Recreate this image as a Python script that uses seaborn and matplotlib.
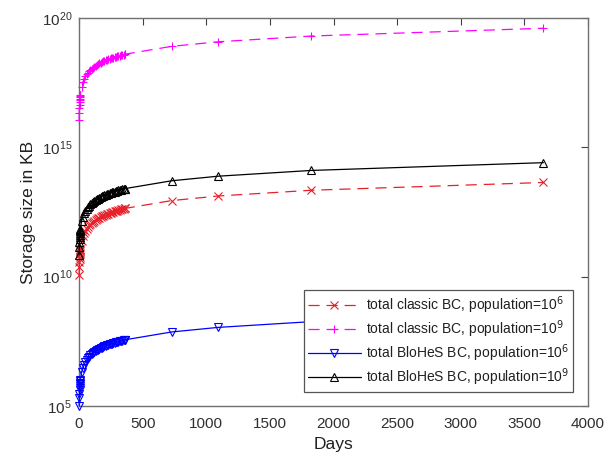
import numpy as np
import pandas as pd
import matplotlib
matplotlib.use("Agg")
import matplotlib.pyplot as plt
import seaborn as sns
from matplotlib.ticker import LogFormatterMathtext, FixedLocator, NullLocator

# ---- data ----
days = [1, 2, 3, 4, 5, 6, 7, 8, 9, 10, 20, 30, 40, 50, 60, 70, 80, 90, 100,
        110, 120, 130, 140, 150, 160, 170, 180, 190, 200, 210, 220, 230, 240,
        250, 260, 270, 280, 290, 300, 310, 320, 330, 340, 350, 360, 365,
        730, 1095, 1825, 3650]

classic_1e6 = [1.2e10, 2.4e10, 3.6e10, 4.8e10, 6.0e10, 7.2e10, 8.4e10, 9.6e10, 1.08e11, 1.2e11,
               2.4e11, 3.6e11, 4.8e11, 6.0e11, 7.2e11, 8.4e11, 9.6e11, 1.08e12, 1.2e12,
               1.32e12, 1.44e12, 1.56e12, 1.68e12, 1.8e12, 1.92e12, 2.04e12, 2.16e12, 2.28e12,
               2.4e12, 2.52e12, 2.64e12, 2.76e12, 2.88e12, 3.0e12, 3.12e12, 3.24e12, 3.36e12,
               3.48e12, 3.6e12, 3.72e12, 3.84e12, 3.96e12, 4.08e12, 4.2e12, 4.32e12, 4.38e12,
               8.76e12, 1.314e13, 2.19e13, 4.38e13]

classic_1e9 = [1.1e16, 2.2e16, 3.3e16, 4.4e16, 5.5e16, 6.6e16, 7.7e16, 8.8e16, 9.9e16, 1.1e17,
               2.2e17, 3.3e17, 4.4e17, 5.5e17, 6.6e17, 7.7e17, 8.8e17, 9.9e17, 1.1e18,
               1.21e18, 1.32e18, 1.43e18, 1.54e18, 1.65e18, 1.76e18, 1.87e18, 1.98e18, 2.09e18,
               2.2e18, 2.31e18, 2.42e18, 2.53e18, 2.64e18, 2.75e18, 2.86e18, 2.97e18, 3.08e18,
               3.19e18, 3.3e18, 3.41e18, 3.52e18, 3.63e18, 3.74e18, 3.85e18, 3.96e18, 4.015e18,
               8.03e18, 1.2045e19, 2.0075e19, 4.015e19]

blohes_1e6 = [1e5, 2e5, 3e5, 4e5, 5e5, 6e5, 7e5, 8e5, 9e5, 1e6,
              2e6, 3e6, 4e6, 5e6, 6e6, 7e6, 8e6, 9e6, 1e7,
              1.1e7, 1.2e7, 1.3e7, 1.4e7, 1.5e7, 1.6e7, 1.7e7, 1.8e7, 1.9e7,
              2.0e7, 2.1e7, 2.2e7, 2.3e7, 2.4e7, 2.5e7, 2.6e7, 2.7e7, 2.8e7,
              2.9e7, 3.0e7, 3.1e7, 3.2e7, 3.3e7, 3.4e7, 3.5e7, 3.6e7, 3.65e7,
              7.3e7, 1.095e8, 1.825e8, 3.65e8]

blohes_1e9 = [7e10, 1.4e11, 2.1e11, 2.8e11, 3.5e11, 4.2e11, 4.9e11, 5.6e11, 6.3e11, 7e11,
              1.4e12, 2.1e12, 2.8e12, 3.5e12, 4.2e12, 4.9e12, 5.6e12, 6.3e12, 7e12,
              7.7e12, 8.4e12, 9.1e12, 9.8e12, 1.05e13, 1.12e13, 1.19e13, 1.26e13, 1.33e13,
              1.4e13, 1.47e13, 1.54e13, 1.61e13, 1.68e13, 1.75e13, 1.82e13, 1.89e13, 1.96e13,
              2.03e13, 2.1e13, 2.17e13, 2.24e13, 2.31e13, 2.38e13, 2.45e13, 2.52e13, 2.555e13,
              5.11e13, 7.665e13, 1.2775e14, 2.555e14]

labels = ["total classic BC, population=10$^6$",
          "total classic BC, population=10$^9$",
          "total BloHeS BC, population=10$^6$",
          "total BloHeS BC, population=10$^9$"]

xticks = [0, 500, 1000, 1500, 2000, 2500, 3000, 3500, 4000]
yticks = [1e5, 1e10, 1e15, 1e20]

# ---- style ----
sns.set_theme(style="white")
plt.rcParams["font.family"] = ["Liberation Sans", "DejaVu Sans"]
plt.rcParams["lines.scale_dashes"] = False

fig = plt.figure(figsize=(6.13, 4.53), dpi=100)
ax = fig.add_axes([79 / 613, 1 - 406 / 453, 509 / 613, 388 / 453])

series = [
    (classic_1e6, "#e8202a", "x", (0, (8, 5)), "#e8202a"),
    (classic_1e9, "#ff00ff", "+", (0, (8, 5)), "#ff00ff"),
    (blohes_1e6, "#0000ff", "v", "-", "none"),
    (blohes_1e9, "#000000", "^", "-", "none"),
]

for (vals, col, mk, ls, mfc), lab in zip(series, labels):
    df = pd.DataFrame({"Days": days, "val": vals})
    sns.lineplot(data=df, x="Days", y="val", ax=ax, color=col, linestyle=ls,
                 linewidth=0.9, marker=mk, markersize=5.5, markerfacecolor=mfc,
                 markeredgecolor=col, markeredgewidth=0.8, label=lab,
                 clip_on=False, zorder=3)

ax.set_yscale("log")
ax.set_xlim(0, 4000)
ax.set_ylim(1e5, 1e20)
ax.yaxis.set_major_locator(FixedLocator(yticks))
ax.yaxis.set_major_formatter(LogFormatterMathtext())
ax.yaxis.set_minor_locator(NullLocator())
ax.set_xticks(xticks)

spine_col = "#707070"
for s in ax.spines.values():
    s.set_visible(True)
    s.set_color(spine_col)
    s.set_linewidth(1.0)

ax.tick_params(axis="both", which="major", direction="in", length=5, width=0.8,
               color="#404040", top=True, right=True, labelsize=11,
               labelcolor="#303030")
ax.tick_params(axis="x", pad=8)
ax.tick_params(axis="y", pad=5)

ax.set_xlabel("Days", fontsize=12.5, color="#202020", labelpad=4)
ax.set_ylabel("Storage size in KB", fontsize=12.5, color="#202020", labelpad=4)

leg = ax.legend(loc="lower right", bbox_to_anchor=((573 - 79) / 509, (406 - 392) / 388),
                borderaxespad=0, fontsize=10, frameon=True, fancybox=False,
                framealpha=1, edgecolor="#555555", handlelength=3.8,
                handletextpad=0.35, labelspacing=0.18, borderpad=0.3)
leg.get_frame().set_linewidth(0.9)
for t in leg.get_texts():
    t.set_color("#202020")

fig.savefig("out.png", dpi=100, facecolor="white")
